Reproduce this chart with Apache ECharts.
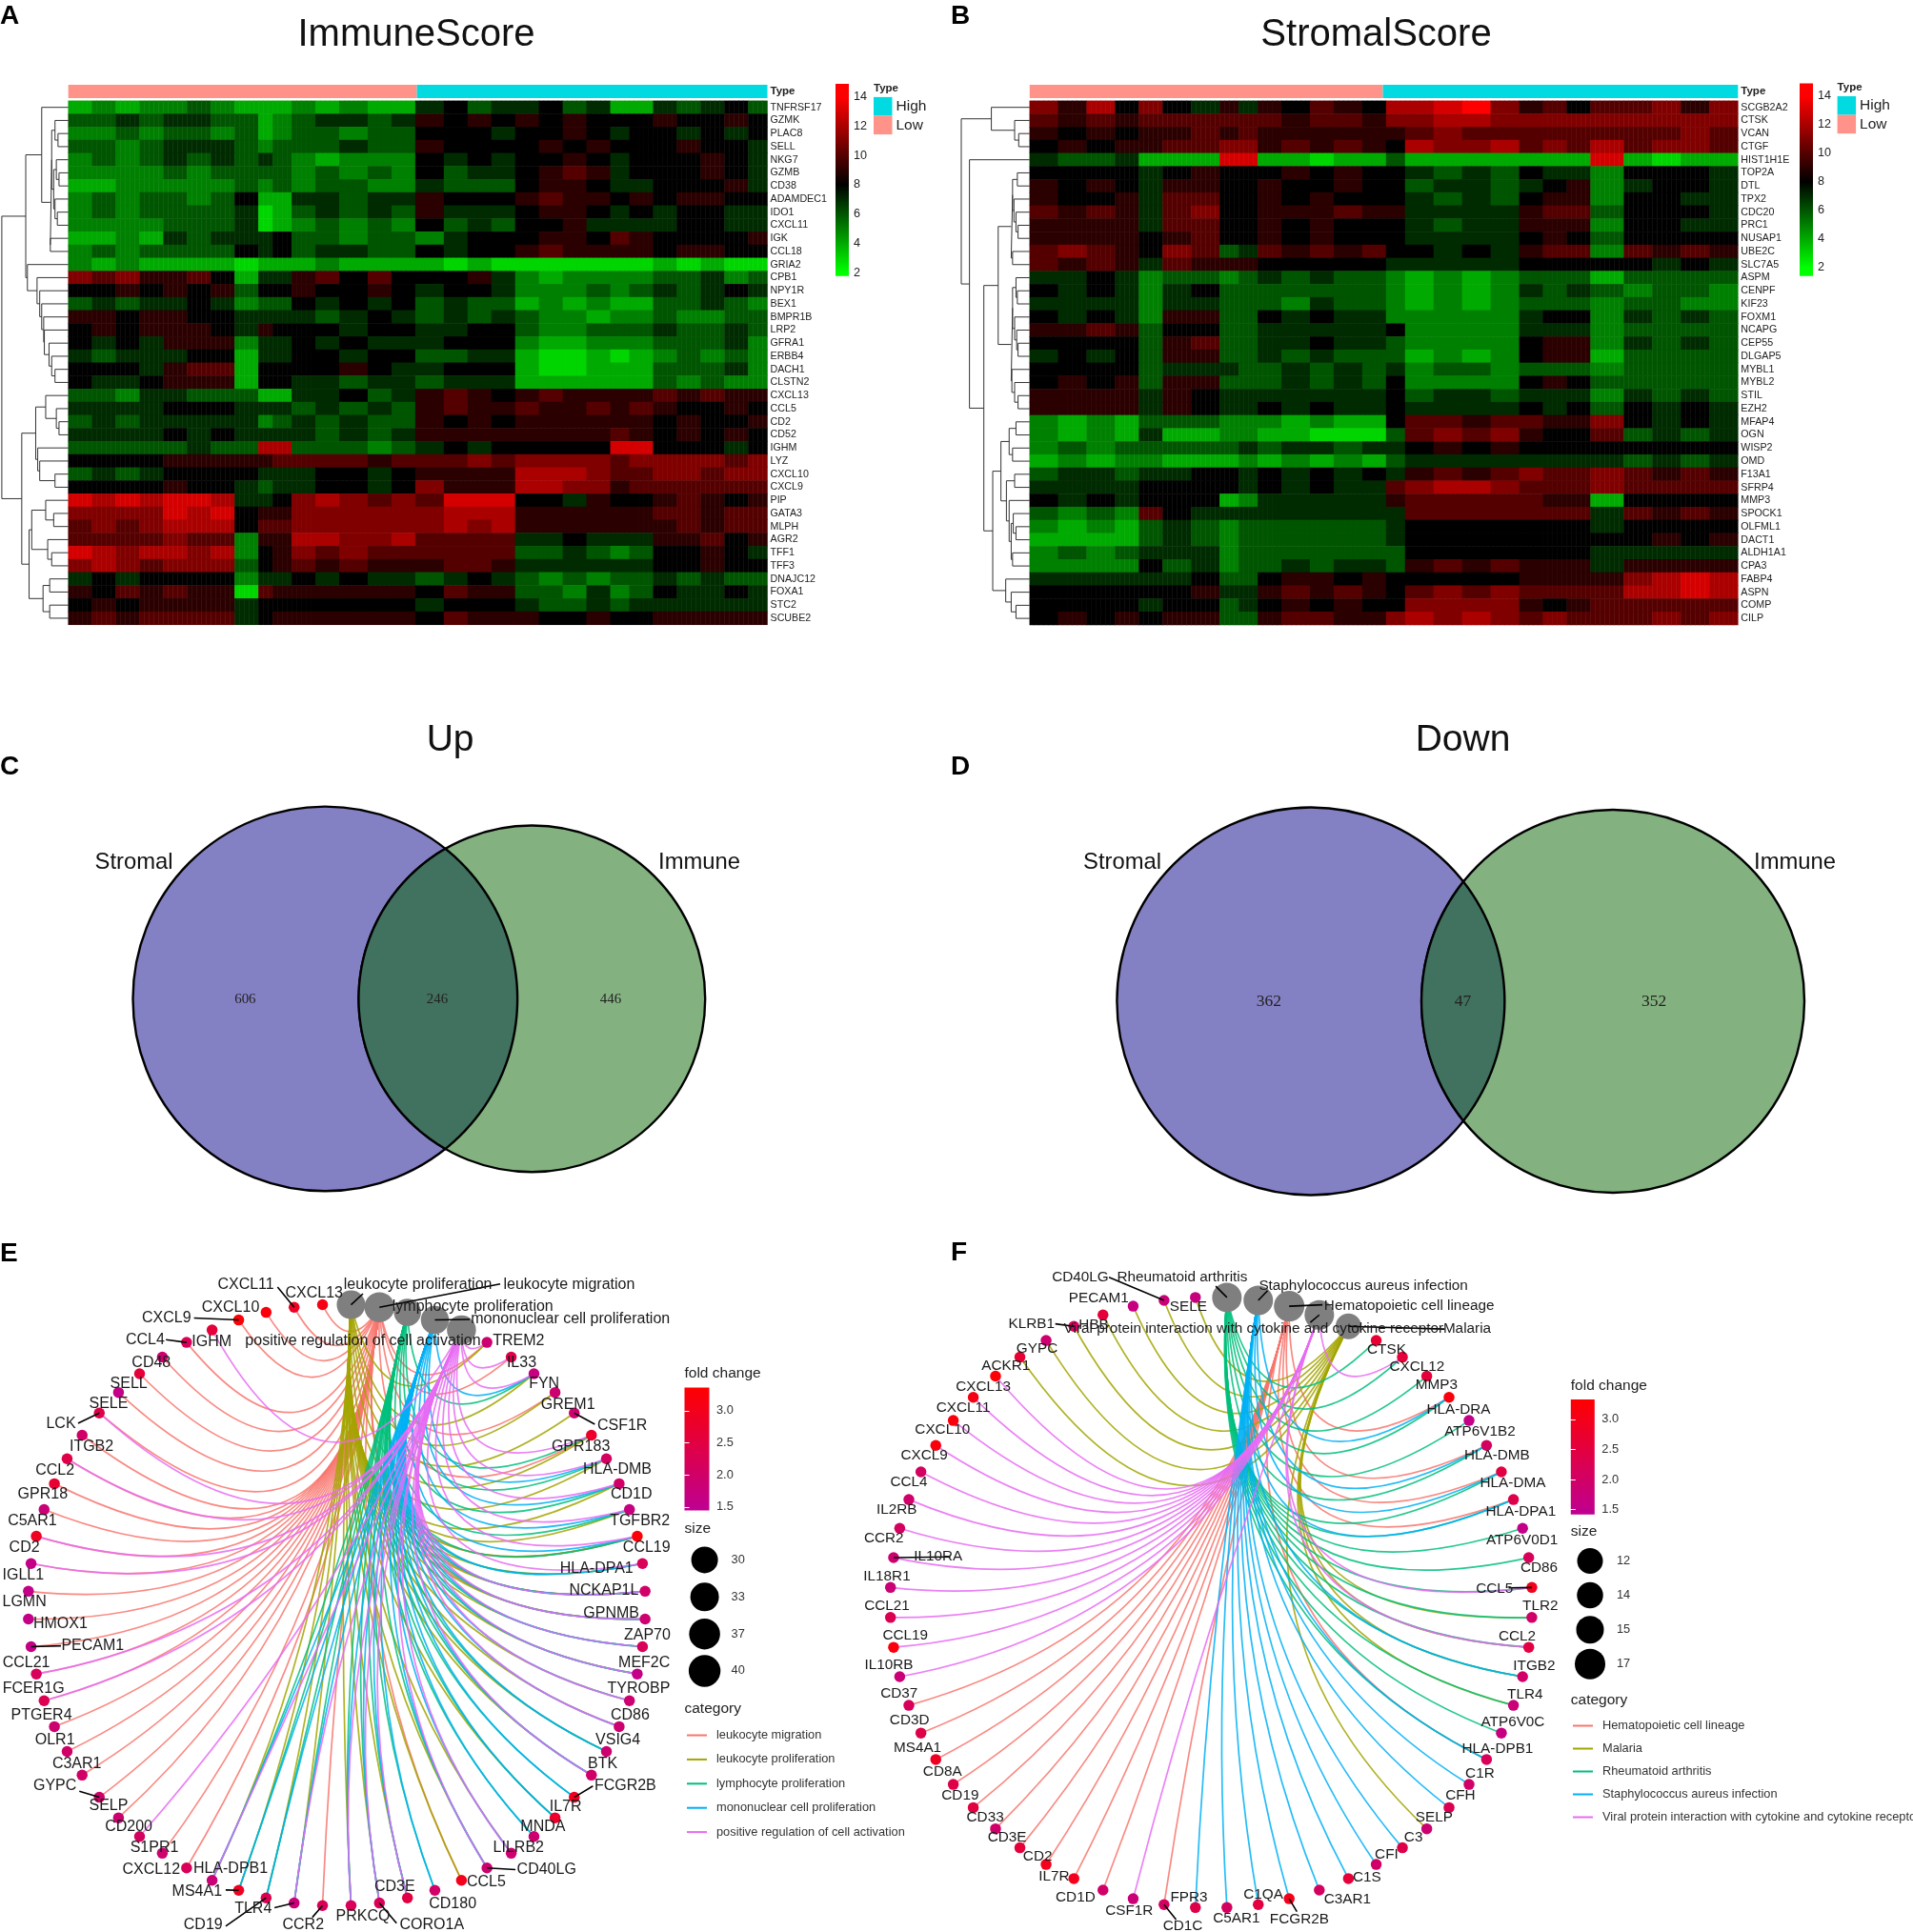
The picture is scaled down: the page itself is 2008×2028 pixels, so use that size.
<!DOCTYPE html>
<html><head><meta charset="utf-8">
<script src="https://cdn.jsdelivr.net/npm/echarts@6/dist/echarts.min.js"></script>
<style>html,body{margin:0;padding:0;background:#fff}#c{width:2008px;height:2028px}</style></head>
<body><div id="c"></div>
<script>
// ---------- Panel A: heatmap ----------
const genesA=["TNFRSF17","GZMK","PLAC8","SELL","NKG7","GZMB","CD38","ADAMDEC1","IDO1","CXCL11","IGK","CCL18","GRIA2","CPB1","NPY1R","BEX1","BMPR1B","LRP2","GFRA1","ERBB4","DACH1","CLSTN2","CXCL13","CCL5","CD2","CD52","IGHM","LYZ","CXCL10","CXCL9","PIP","GATA3","MLPH","AGR2","TFF1","TFF3","DNAJC12","FOXA1","STC2","SCUBE2"];
const spansA=[5,5,5,5,5,5,5,5,3,4,5,5,6,5,5,6,5,5,5,5,5,5,5,4,5,5,5,5,5,4];
const heatA=[
[4,5,4,5,5,6,5,4,4,4,5,4,5,4,4,7,8,6,7,7,8,6,7,4,4,7,6,7,8,6],
[6,6,7,6,7,7,6,6,4,5,6,7,7,6,7,9,8,9,8,9,8,9,8,8,8,9,8,8,9,8],
[5,5,6,5,6,6,5,6,4,5,6,6,5,6,6,8,8,8,7,8,8,9,8,7,8,8,7,8,7,8],
[6,6,5,6,7,7,7,6,5,6,6,6,7,6,6,9,8,8,8,8,9,8,9,8,8,8,9,8,8,7],
[5,6,5,6,7,6,7,6,7,6,5,4,5,5,5,8,7,8,7,8,8,9,8,7,8,8,8,9,8,7],
[5,5,5,5,6,5,6,6,6,6,5,6,5,6,5,8,6,7,7,8,9,10,9,7,8,8,8,9,8,7],
[4,4,5,5,5,5,5,6,5,6,5,6,6,5,5,7,6,6,6,8,9,9,8,7,7,8,8,8,9,7],
[5,6,5,6,6,5,6,8,4,4,7,7,6,7,7,9,8,8,8,9,10,9,9,8,9,8,9,9,8,8],
[5,6,5,6,6,6,6,7,3,4,6,7,6,7,6,9,7,7,7,8,9,9,8,7,8,7,8,8,7,7],
[5,5,5,5,6,6,6,7,3,4,5,6,5,6,5,8,6,7,6,8,8,9,7,7,7,7,8,8,7,7],
[4,4,5,4,7,6,7,7,7,8,6,6,5,6,6,5,7,8,8,8,9,9,8,10,9,8,8,8,8,9],
[5,6,5,6,6,6,6,8,7,8,6,7,7,6,6,8,7,8,8,9,10,9,9,9,9,8,9,9,8,8],
[5,4,5,4,4,4,4,3,4,4,4,5,4,4,4,4,3,4,3,3,3,3,3,3,3,4,3,4,3,3],
[11,10,11,9,9,10,8,4,7,7,9,10,8,10,8,8,8,9,7,5,4,5,5,5,5,6,6,7,5,6],
[8,8,9,8,9,8,9,6,8,8,9,8,8,9,8,7,8,8,7,5,5,5,6,5,6,7,6,7,8,7],
[6,7,6,7,7,8,7,5,6,6,8,7,8,7,8,6,7,6,6,4,5,4,5,4,4,6,6,7,6,5],
[9,9,8,9,9,8,8,7,7,7,7,6,7,8,7,6,7,6,7,6,5,5,4,5,5,6,5,5,6,6],
[8,9,8,9,9,9,8,7,9,8,8,8,7,8,8,7,7,8,8,6,5,5,6,6,6,7,6,6,7,6],
[8,7,8,7,9,9,9,5,7,7,8,7,8,7,7,7,8,8,8,5,4,4,5,5,5,6,6,6,7,5],
[7,6,7,7,7,8,8,4,7,7,8,8,7,8,8,6,6,7,7,4,3,3,4,3,4,5,6,5,6,5],
[8,8,8,7,9,10,10,4,8,8,8,8,9,8,7,7,8,8,8,4,3,3,4,4,4,6,6,6,7,5],
[8,7,7,8,9,9,9,4,8,8,7,7,6,7,7,6,7,7,7,4,4,4,4,4,4,6,5,6,5,5],
[6,6,5,7,7,6,6,6,4,4,7,7,8,6,7,9,10,9,8,9,10,9,9,9,9,10,9,10,9,9],
[7,7,7,7,8,8,8,7,7,7,6,7,6,7,6,9,10,9,9,10,9,9,10,9,10,9,8,8,9,8],
[6,7,6,7,7,7,7,7,5,6,7,6,7,6,6,9,8,9,8,9,9,9,9,9,9,8,9,8,8,9],
[7,7,7,7,8,7,8,7,7,7,7,6,7,6,7,9,9,9,9,9,9,9,9,10,9,8,9,8,9,8],
[6,6,6,6,6,7,6,6,12,12,6,6,6,5,6,7,8,7,8,8,8,8,8,13,13,8,8,8,7,8],
[8,8,8,8,9,9,9,9,9,10,10,10,10,9,10,10,10,11,10,11,11,11,11,10,11,11,11,11,10,11],
[6,7,6,7,8,8,8,8,7,7,7,8,8,7,8,9,9,9,9,12,12,12,11,10,10,11,11,10,11,11],
[8,8,8,8,9,8,8,7,6,7,7,8,8,7,8,11,9,9,9,12,12,11,11,9,10,10,10,10,10,10],
[13,12,13,12,13,13,12,7,7,8,11,12,11,10,11,10,13,13,13,8,8,7,9,8,8,9,10,9,8,9],
[11,11,11,11,13,12,13,8,9,9,11,11,11,11,11,11,12,12,12,9,9,9,9,9,9,10,10,9,10,10],
[10,11,10,11,12,12,12,8,10,10,11,11,11,11,11,11,12,11,12,9,9,9,9,9,9,9,10,9,10,10],
[10,10,10,10,11,10,10,5,9,9,12,12,11,11,12,10,10,10,10,7,7,8,7,7,7,9,9,10,8,9],
[13,12,11,12,12,11,12,5,8,9,11,10,11,10,10,10,10,10,10,6,6,7,6,5,6,8,8,9,8,7],
[11,12,11,10,11,11,11,6,8,9,10,9,10,9,9,9,10,10,9,7,7,7,7,7,7,8,8,9,8,8],
[7,8,7,8,8,8,8,5,7,7,8,7,8,7,7,6,7,8,7,6,5,6,5,6,6,7,6,7,6,6],
[9,8,10,9,10,9,9,3,10,9,9,9,9,9,9,8,10,9,9,6,6,5,7,5,6,8,7,7,8,7],
[8,9,8,9,9,9,9,7,8,8,8,8,8,8,8,7,8,8,8,7,6,6,7,6,7,7,7,7,7,7],
[9,10,9,10,10,10,10,7,8,9,9,9,9,9,9,8,10,9,9,9,8,8,9,8,8,9,9,9,9,9]];
const treeA=[1,[0.64,[0.4,0,[0.27,[0.25,[0.2,1,[0.155,2,3]],[0.22,[0.18,4,[0.14,5,6]],[0.2,7,[0.165,8,9]]]],[0.27,10,11]]],[0.615,12,[0.47,13,[0.43,14,[0.4,15,[0.37,16,[0.36,17,[0.29,18,[0.25,19,[0.2,20,21]]]]]]]]]],[0.7,[0.49,[0.34,22,[0.18,23,[0.14,24,25]]],[0.46,26,[0.43,27,[0.2,28,29]]]],[0.59,[0.55,[0.34,30,[0.22,31,32]],[0.31,33,[0.25,34,35]]],[0.38,[0.28,36,37],[0.28,38,39]]]]];
const typeCountsA=[183,184];
// ---------- Panel B: heatmap ----------
const genesB=["SCGB2A2","CTSK","VCAN","CTGF","HIST1H1E","TOP2A","DTL","TPX2","CDC20","PRC1","NUSAP1","UBE2C","SLC7A5","ASPM","CENPF","KIF23","FOXM1","NCAPG","CEP55","DLGAP5","MYBL1","MYBL2","STIL","EZH2","MFAP4","OGN","WISP2","OMD","F13A1","SFRP4","MMP3","SPOCK1","OLFML1","DACT1","ALDH1A1","CPA3","FABP4","ASPN","COMP","CILP"];
const spansB=[6,6,6,5,5,6,6,4,4,5,6,5,6,5,4,6,6,6,6,5,5,5,7,6,6,6,6];
const heatB=[
[11,9,12,8,11,8,7,9,7,9,8,10,9,8,12,12,13,14,11,9,10,8,10,10,11,9,11],
[10,9,10,9,10,10,10,10,10,10,9,10,10,9,11,11,12,12,11,11,11,11,11,11,11,11,11],
[9,8,9,8,9,9,10,9,10,9,9,9,9,9,9,10,11,10,10,10,10,10,10,10,10,11,10],
[8,9,8,9,9,10,10,11,11,9,10,9,10,9,8,12,11,11,12,10,11,10,12,10,11,11,10],
[7,6,6,7,4,4,4,13,13,4,4,3,4,4,6,4,4,4,4,4,4,4,13,4,3,4,4],
[8,8,8,8,7,8,9,8,8,8,9,8,9,8,8,7,6,7,6,8,7,7,5,8,8,8,7],
[9,8,9,8,7,9,9,8,8,9,8,8,9,8,8,6,7,7,6,7,8,9,5,7,8,8,7],
[9,8,8,9,7,10,10,8,8,9,8,9,8,8,8,7,6,7,6,8,9,9,5,8,8,7,7],
[10,9,10,9,7,10,11,8,8,9,9,9,10,9,9,7,7,7,7,9,10,10,6,8,8,8,7],
[9,9,9,9,7,10,10,8,8,9,8,9,8,8,8,7,6,7,7,9,9,9,5,8,8,7,7],
[9,9,9,9,8,9,10,8,8,9,8,9,8,8,8,7,7,7,7,8,9,8,6,8,8,8,8],
[10,11,10,9,8,11,10,6,7,10,9,10,9,10,8,8,7,8,7,9,10,10,5,10,9,10,9],
[10,9,10,9,7,10,9,9,9,8,8,8,8,8,7,7,7,7,7,8,8,8,8,8,7,8,7],
[7,7,8,7,5,6,6,5,6,7,6,7,6,6,5,4,5,4,5,6,6,6,4,6,6,6,6],
[8,7,8,7,5,7,8,6,6,6,6,6,6,6,5,4,5,4,5,7,6,7,6,5,6,6,5],
[7,7,7,7,5,7,7,6,6,6,5,7,6,6,5,4,5,4,5,6,6,6,5,6,6,5,5],
[8,7,8,7,5,9,9,6,6,8,7,8,7,7,5,5,5,5,5,7,8,8,5,7,6,7,6],
[9,9,10,9,6,8,8,6,6,7,7,7,7,7,8,5,5,5,5,7,7,7,5,6,6,6,6],
[8,8,8,8,6,9,10,6,6,7,7,8,7,7,6,5,5,5,5,8,9,9,5,7,6,7,6],
[7,8,7,8,6,9,9,6,6,7,6,7,6,6,6,4,5,4,5,8,9,9,4,6,6,6,6],
[8,8,8,8,6,7,7,7,6,6,7,6,7,6,7,5,6,6,5,6,6,6,5,6,6,6,6],
[8,9,8,9,6,9,9,6,6,6,7,6,7,6,8,5,5,5,5,8,9,8,6,6,6,6,6],
[9,9,9,9,7,9,8,7,7,7,7,7,7,7,8,6,7,7,6,7,7,7,5,7,6,7,6],
[9,9,9,9,7,9,8,7,7,8,7,8,7,7,8,7,7,7,7,8,7,8,6,8,7,8,7],
[5,4,5,4,6,6,6,5,5,5,4,5,4,4,8,10,10,9,10,10,9,9,11,8,7,8,7],
[5,4,5,4,7,4,4,5,5,4,4,3,3,3,6,10,11,10,11,9,8,8,10,6,7,6,7],
[5,6,5,6,6,6,6,6,7,6,7,7,6,7,7,8,9,8,9,8,8,8,8,8,8,8,8],
[4,5,4,5,5,4,4,4,5,4,5,4,5,4,6,7,7,7,7,7,7,7,7,6,7,6,7],
[6,7,7,6,7,7,8,8,7,8,7,8,7,8,7,9,10,9,10,11,10,10,11,10,9,10,9],
[7,7,7,7,8,8,8,8,7,8,7,8,7,7,10,11,12,12,11,10,10,10,11,10,10,10,10],
[8,7,8,7,8,8,8,4,5,7,7,7,7,7,9,10,10,10,10,10,9,9,4,8,8,8,8],
[6,5,6,5,10,8,7,7,7,7,7,7,7,7,7,10,10,10,10,10,10,10,7,10,9,10,9],
[5,4,5,4,6,7,6,5,6,6,6,6,6,6,7,8,8,8,8,8,8,8,7,8,8,8,8],
[4,4,4,4,6,7,6,5,6,6,6,6,6,6,7,8,8,8,8,8,8,8,8,8,9,8,9],
[5,6,5,6,7,7,7,5,6,6,6,6,6,6,6,8,8,8,8,8,8,8,7,7,7,7,7],
[5,5,5,5,8,6,7,5,6,6,7,6,7,7,6,9,10,9,10,9,9,9,7,9,9,9,9],
[7,7,7,7,7,7,8,6,6,8,9,9,8,9,8,8,8,8,8,9,9,9,9,11,12,13,12],
[8,8,8,8,8,8,9,7,7,9,10,9,10,9,8,10,11,10,11,10,10,10,10,12,12,13,12],
[8,8,8,8,7,8,8,6,7,8,9,8,9,8,8,11,11,11,11,9,8,9,10,10,10,10,10],
[8,9,8,9,8,9,9,6,6,9,10,10,9,9,11,12,11,12,11,10,11,10,10,10,11,10,11]];
const treeB=[1,[0.56,0,[0.22,1,[0.16,2,3]]],[0.88,4,[0.67,[0.46,[0.27,[0.25,[0.18,5,6],[0.23,7,[0.2,8,[0.17,9,10]]]],[0.25,11,12]],[0.27,[0.25,[0.2,13,[0.18,14,15]],[0.22,16,[0.19,17,[0.17,18,19]]]],[0.26,20,[0.22,21,[0.17,22,23]]]]],[0.54,[0.42,[0.3,[0.2,24,25],[0.25,26,27]],[0.34,[0.22,28,29],[0.3,30,[0.27,[0.24,31,[0.2,32,33]],[0.25,34,35]]]]],[0.35,36,[0.27,37,[0.2,38,39]]]]]]];
const typeCountsB=[186,187];
const heatTicks=[2,4,6,8,10,12,14];
// ---------- Panels C, D: Venn ----------
const vennUp=[606,246,446];
const vennDown=[362,47,352];
// ---------- Panel E: network ----------
const categoriesE=["leukocyte migration","leukocyte proliferation","lymphocyte proliferation","mononuclear cell proliferation","positive regulation of cell activation"];
const circleCatsE=["leukocyte proliferation","leukocyte migration","lymphocyte proliferation","mononuclear cell proliferation","positive regulation of cell activation"];
const genesE=["TREM2","IL33","FYN","GREM1","CSF1R","GPR183","HLA-DMB","CD1D","TGFBR2","CCL19","HLA-DPA1","NCKAP1L","GPNMB","ZAP70","MEF2C","TYROBP","CD86","VSIG4","BTK","FCGR2B","IL7R","MNDA","LILRB2","CD40LG","CCL5","CD180","CD3E","CORO1A","PRKCQ","CCR2","TLR4","CD19","MS4A1","HLA-DPB1","CXCL12","S1PR1","CD200","SELP","GYPC","C3AR1","OLR1","PTGER4","FCER1G","CCL21","PECAM1","HMOX1","LGMN","IGLL1","CD2","C5AR1","GPR18","CCL2","ITGB2","LCK","SELE","SELL","CD48","CCL4","IGHM","CXCL9","CXCL10","CXCL11","CXCL13"];
const foldE=[1.9,2.4,1.7,1.9,1.9,2.8,2.1,2,1.7,3.3,2.2,2,1.9,2.2,1.6,1.9,1.9,1.9,2,2.9,2.8,1.9,1.9,1.9,3,2,2.5,2.2,2.2,2.2,1.8,2.3,2.9,1.8,2.2,1.9,2.1,1.9,2,2,2,1.9,2.3,2.2,1.6,1.6,1.6,1.6,2.9,1.8,2.7,2.4,2,2.4,1.6,2.6,1.9,2.2,2.6,3.3,3.2,2.9,3.1];
const migrationE=["TREM2","IL33","GREM1","GPR183","CCL19","NCKAP1L","GPNMB","CCL5","CCR2","CXCL12","S1PR1","SELP","GYPC","C3AR1","OLR1","PTGER4","FCER1G","CCL21","PECAM1","HMOX1","LGMN","IGLL1","CD2","C5AR1","GPR18","CCL2","ITGB2","LCK","SELE","SELL","CD48","CCL4","CXCL9","CXCL10","CXCL11","CXCL13"];
const leukoProlifE=["TREM2","FYN","GREM1","CSF1R","GPR183","HLA-DMB","CD1D","TGFBR2","CCL19","HLA-DPA1","NCKAP1L","GPNMB","ZAP70","MEF2C","TYROBP","CD86","VSIG4","BTK","IL7R","LILRB2","CD40LG","CCL5","CD3E","CORO1A","PRKCQ","TLR4","CD19","MS4A1","HLA-DPB1"];
const lymphoProlifE=["FYN","GPR183","HLA-DMB","CD1D","TGFBR2","CCL19","HLA-DPA1","NCKAP1L","GPNMB","ZAP70","MEF2C","VSIG4","BTK","FCGR2B","IL7R","MNDA","CD180","CD40LG","CD3E","CORO1A","PRKCQ","TLR4","CD19","MS4A1","HLA-DPB1"];
const monoProlifE=["FYN","HLA-DMB","CD1D","TGFBR2","CCL19","HLA-DPA1","NCKAP1L","GPNMB","ZAP70","MEF2C","TYROBP","CD86","VSIG4","BTK","FCGR2B","IL7R","MNDA","LILRB2","CD180","CD40LG","CD3E","CORO1A","PRKCQ","TLR4","CD19","MS4A1","HLA-DPB1"];
const activationE=["TREM2","IL33","FYN","GPR183","HLA-DMB","CD1D","TGFBR2","CCL19","HLA-DPA1","NCKAP1L","GPNMB","ZAP70","MEF2C","TYROBP","CD86","BTK","LILRB2","CD40LG","CD3E","CORO1A","PRKCQ","TLR4","HLA-DPB1","CD200","FCER1G","CCL21","IGLL1","CD2","CCL2","LCK","IGHM"];
const sizeLegendE=[30,33,37,40];
const sizeDiamE=[28,30,32.5,33.4];
// ---------- Panel F: network ----------
const categoriesF=["Hematopoietic cell lineage","Malaria","Rheumatoid arthritis","Staphylococcus aureus infection","Viral protein interaction with cytokine and cytokine receptor"];
const circleCatsF=["Rheumatoid arthritis","Staphylococcus aureus infection","Hematopoietic cell lineage","Viral protein interaction with cytokine and cytokine receptor","Malaria"];
const genesF=["CTSK","CXCL12","MMP3","HLA-DRA","ATP6V1B2","HLA-DMB","HLA-DMA","HLA-DPA1","ATP6V0D1","CD86","CCL5","TLR2","CCL2","ITGB2","TLR4","ATP6V0C","HLA-DPB1","C1R","CFH","SELP","C3","CFI","C1S","C3AR1","FCGR2B","C1QA","C5AR1","FPR3","CD1C","CSF1R","CD1D","IL7R","CD2","CD3E","CD33","CD19","CD8A","MS4A1","CD3D","CD37","IL10RB","CCL19","CCL21","IL18R1","IL10RA","CCR2","IL2RB","CCL4","CXCL9","CXCL10","CXCL11","CXCL13","ACKR1","GYPC","KLRB1","HBB","PECAM1","CD40LG","SELE"];
const foldF=[2.7,2.6,2.6,3.2,1.6,2.1,2.5,2.4,1.6,2.2,3,2,2.5,2,1.8,1.7,2.2,2,2.3,1.9,2.4,2,2.6,2.1,3,2.5,2.1,2.4,2.1,1.8,2,3,3,2.6,2,2.5,2.4,2.9,2.4,2.2,1.8,3.2,2.3,1.8,1.9,2.1,2,2.1,3.2,3.2,3.1,3.3,2.7,1.9,2.1,2.6,1.7,1.8,1.7];
const hematoF=["HLA-DRA","HLA-DMB","HLA-DMA","HLA-DPA1","HLA-DPB1","CD1C","CD1D","IL7R","CD2","CD3E","CD33","CD19","CD8A","MS4A1","CD3D","CD37"];
const malariaF=["CCL2","TLR2","ITGB2","TLR4","SELP","GYPC","ACKR1","KLRB1","HBB","PECAM1","CD40LG","SELE"];
const rheumF=["CTSK","CXCL12","MMP3","HLA-DRA","ATP6V1B2","HLA-DMB","HLA-DMA","HLA-DPA1","ATP6V0D1","CD86","CCL5","TLR2","CCL2","ITGB2","TLR4","ATP6V0C","HLA-DPB1"];
const staphF=["HLA-DRA","HLA-DMB","HLA-DMA","HLA-DPA1","ITGB2","HLA-DPB1","C1R","CFH","C3","CFI","C1S","C3AR1","FCGR2B","C1QA","C5AR1","FPR3"];
const viralF=["CXCL12","CCL5","CCL2","CSF1R","IL10RB","CCL19","CCL21","IL18R1","IL10RA","CCR2","IL2RB","CCL4","CXCL9","CXCL10","CXCL11","CXCL13"];
const sizeLegendF=[12,14,15,17];
const sizeDiamF=[27,27.5,29,32];
const foldTicks=[1.5,2,2.5,3];

// ---------- placement tables (positions only, in crop units of the source figure) ----------
const labelE=[[850,231],[855,281],[892,328],[931,375],[1020,423],[952,471],[1012,523],[1035,579],[1049,638],[1060,699],[978,747],[990,797],[1002,848],[1061,897],[1056,960],[1047,1018],[1033,1078],[1013,1134],[988,1188],[1025,1238],[927,1285],[890,1331],[850,1378],[896,1427],[797,1455],[742,1504],[647,1465],[708,1552],[595,1533],[497,1552],[415,1516],[333,1552],[323,1476],[378,1425],[248,1428],[253,1378],[211,1330],[178,1283],[90,1238],[126,1188],[90,1134],[68,1078],[55,1018],[43,960],[152,921],[99,872],[40,823],[38,762],[40,699],[53,638],[70,579],[90,524],[150,471],[100,420],[178,374],[211,328],[248,281],[238,229],[347,233],[273,181],[378,157],[403,105],[515,125]];
const catLabelE=[[685,105],[933,105],[775,155],[935,183],[595,232]];
const leaderE={"CXCL11":[455,110],"CXCL9":[318,180],"CCL4":[272,229],"LCK":[128,418],"PECAM1":[100,921],"GYPC":[130,1250],"MS4A1":[370,1473],"CD19":[370,1555],"TLR4":[450,1513],"CCR2":[512,1535],"CORO1A":[650,1548],"CD40LG":[845,1427],"FCGR2B":[972,1238],"CSF1R":[975,420],"leukocyte proliferation":[595,125],"leukocyte migration":[820,103],"mononuclear cell proliferation":[770,183]};
const labelF=[[705,252],[755,290],[787,332],[823,388],[858,436],[886,491],[912,553],[925,617],[927,682],[955,745],[882,793],[957,831],[919,900],[947,967],[932,1031],[912,1093],[887,1154],[858,1210],[826,1259],[783,1310],[749,1354],[705,1393],[673,1445],[641,1494],[562,1539],[503,1483],[459,1537],[381,1490],[371,1555],[283,1520],[195,1490],[160,1443],[133,1397],[83,1355],[47,1310],[6,1260],[-23,1206],[-64,1151],[-77,1090],[-94,1029],[-111,965],[-84,898],[-114,831],[-114,765],[-30,719],[-119,678],[-98,614],[-78,552],[-53,491],[-23,433],[11,383],[44,336],[81,289],[132,249],[123,194],[225,196],[233,135],[203,87],[380,154]];
const catLabelF=[[370,88],[667,107],[742,152],[487,205],[837,205]];
const leaderF={"CD40LG":[250,88],"KLRB1":[162,193],"CCL5":[905,790],"IL10RA":[-10,720],"CD1C":[360,1540],"FCGR2B":[558,1522],"Rheumatoid arthritis":[425,108],"Staphylococcus aureus infection":[510,118],"Hematopoietic cell lineage":[600,150],"Viral protein interaction with cytokine and cytokine receptor":[580,190],"Malaria":[800,205]};

// ---------- builders ----------
const sans="'Liberation Sans',Arial,sans-serif";
const ink='#1a1a1a';
const grids=[],xAxes=[],yAxes=[],series=[],graphics=[],legends=[],heatIdx=[];
function addGrid(x,y,w,h,xa,ya,ya2){
  const g=grids.length;grids.push({left:x,top:y,width:w,height:h,containLabel:false});
  const xi=xAxes.length;xAxes.push(Object.assign({gridIndex:g},xa));
  const yi=yAxes.length;yAxes.push(Object.assign({gridIndex:g},ya));
  if(ya2)yAxes.push(Object.assign({gridIndex:g},ya2));
  return {xi,yi};
}
const hidden=(min,max,extra)=>Object.assign({type:'value',show:false,min,max,splitLine:{show:false}},extra||{});
function text(x,y,str,size,opt){
  opt=opt||{};
  graphics.push({type:'text',x,y,silent:true,z:100,style:{text:str,fontSize:size,fontFamily:opt.family||sans,fontWeight:opt.weight||'normal',fill:opt.fill||ink,align:opt.align||'left',verticalAlign:'middle'}});
}
function rect(x,y,w,h,fill){graphics.push({type:'rect',silent:true,shape:{x,y,width:w,height:h},style:{fill}});}
function gradientBar(ax,lo,hi,stops){
  series.push({type:'custom',xAxisIndex:ax.xi,yAxisIndex:ax.yi,silent:true,data:[[lo,hi]],z:2,
    renderItem:(p,api)=>{const a=api.coord([0,api.value(1)]),b=api.coord([1,api.value(0)]);
      return {type:'rect',shape:{x:a[0],y:a[1],width:b[0]-a[0],height:b[1]-a[1]},style:{fill:new echarts.graphic.LinearGradient(0,0,0,1,stops)}};}});
}
function dendroPoints(tree){
  const pts=[];
  (function walk(n){
    if(typeof n==='number')return {h:0,y:n+0.5};
    const a=walk(n[1]),b=walk(n[2]);
    pts.push([a.h,a.y],[n[0],a.y],[n[0],b.y],[b.h,b.y],['-','-']);
    return {h:n[0],y:(a.y+b.y)/2};
  })(tree);
  return pts;
}
function heatPanel(cfg){
  const n=cfg.spans.reduce((a,b)=>a+b,0);
  const cols=Array.from({length:n},(_,i)=>String(i));
  const ax=addGrid(cfg.x,cfg.y,cfg.w,cfg.h,
    {type:'category',data:cols,show:false},
    {type:'category',data:cfg.genes,inverse:true,position:'right',axisLine:{show:false},axisTick:{show:false},splitLine:{show:false},
     axisLabel:{interval:0,fontSize:10.7,fontFamily:sans,color:'#222',margin:3}});
  const cells=[];
  cfg.heat.forEach((row,r)=>{let c=0;row.forEach((v,s)=>{for(let k=0;k<cfg.spans[s];k++)cells.push([c++,r,v]);});});
  heatIdx.push(series.length);
  series.push({type:'heatmap',xAxisIndex:ax.xi,yAxisIndex:ax.yi,data:cells,progressive:0,silent:true,emphasis:{disabled:true}});
  // annotation bar
  const an=addGrid(cfg.x,88.9,cfg.w,14,hidden(0,cfg.counts[0]+cfg.counts[1]),
    {type:'category',data:['Type'],position:'right',axisLine:{show:false},axisTick:{show:false},
     axisLabel:{fontSize:11.5,fontWeight:'bold',fontFamily:sans,color:'#222',margin:3}});
  [['Low','#FF9289',cfg.counts[0]],['High','#00DAE0',cfg.counts[1]]].forEach(t=>{
    series.push({type:'bar',name:'Type '+t[0]+cfg.title,stack:'t'+cfg.title,barWidth:'100%',xAxisIndex:an.xi,yAxisIndex:an.yi,data:[t[2]],itemStyle:{color:t[1]},silent:true});
  });
  // dendrogram
  const de=addGrid(cfg.dx,cfg.y,cfg.x-cfg.dx,cfg.h,hidden(0,1,{inverse:true}),hidden(0,40,{inverse:true}));
  series.push({type:'line',xAxisIndex:de.xi,yAxisIndex:de.yi,data:dendroPoints(cfg.tree),showSymbol:false,symbol:'none',silent:true,clip:false,
    connectNulls:false,lineStyle:{color:'#333',width:1},z:3});
  // colour bar
  const lo=cfg.cbLo,hi=cfg.cbHi;const off=v=>(hi-v)/(hi-lo);
  const cb=addGrid(cfg.cbx,cfg.cby,14,cfg.cbh,hidden(0,1),
    {type:'value',min:lo,max:hi,position:'right',axisLine:{show:false},axisTick:{show:false},splitLine:{show:false},
     axisLabel:{customValues:heatTicks,fontSize:12.6,fontFamily:sans,color:'#222',margin:5,hideOverlap:false,showMinLabel:true,showMaxLabel:true}});
  gradientBar(cb,lo,hi,[{offset:0,color:'#ff0000'},{offset:off(14),color:'#ff0000'},{offset:off(8),color:'#000000'},{offset:off(2),color:'#00ff00'},{offset:1,color:'#00ff00'}]);
  // Type legend
  text(cfg.lx,cfg.ly-9,'Type',11.5,{weight:'bold',fill:'#222'});
  rect(cfg.lx,cfg.ly,19.5,19.6,'#00DAE0');rect(cfg.lx,cfg.ly+19.6,19.5,19.6,'#FF9289');
  text(cfg.lx+23.5,cfg.ly+9.8,'High',15.5,{fill:'#222'});text(cfg.lx+23.5,cfg.ly+30,'Low',15.5,{fill:'#222'});
  text(cfg.tx,37,cfg.title,40,{align:'center',fill:'#111'});
}
function vennPanel(cfg){
  const [a,ab,b]=cfg.counts;
  const r1=Math.sqrt((a+ab)/Math.PI),r2=Math.sqrt((b+ab)/Math.PI);
  const lens=d=>{
    const d1=(d*d+r1*r1-r2*r2)/(2*d),d2=d-d1;
    return r1*r1*Math.acos(d1/r1)-d1*Math.sqrt(r1*r1-d1*d1)+r2*r2*Math.acos(d2/r2)-d2*Math.sqrt(r2*r2-d2*d2);
  };
  let lo=Math.abs(r1-r2)+1e-6,hi=r1+r2-1e-6;
  for(let i=0;i<60;i++){const m=(lo+hi)/2;if(lens(m)>ab)lo=m;else hi=m;}
  const d=(lo+hi)/2,span=r1+d+r2,rm=Math.max(r1,r2);
  const h=cfg.w*2*rm/span;
  const ax=addGrid(cfg.x,cfg.cy-h/2,cfg.w,h,hidden(0,span),hidden(-rm,rm));
  const circles=[[r1,0,r1,'#8480C4'],[r1+d,0,r2,'#83B280']];
  series.push({type:'custom',xAxisIndex:ax.xi,yAxisIndex:ax.yi,silent:true,clip:false,data:circles.map(c=>c.slice(0,3)),z:2,
    renderItem:(p,api)=>{const c=api.coord([api.value(0),api.value(1)]);const rp=api.size([api.value(2),0])[0];
      return {type:'circle',shape:{cx:c[0],cy:c[1],r:rp},style:{fill:circles[p.dataIndex][3],stroke:'#000',lineWidth:2.4}};}});
  series.push({type:'custom',xAxisIndex:ax.xi,yAxisIndex:ax.yi,silent:true,clip:false,data:[[r1,r1+d,r1,r2]],z:3,
    renderItem:(p,api)=>{
      const pts=[],back=[];
      const yMax=Math.sqrt(Math.max(0,r1*r1-Math.pow((d*d+r1*r1-r2*r2)/(2*d),2)));
      for(let i=0;i<=120;i++){const y=-yMax+2*yMax*i/120;
        pts.push(api.coord([r1+Math.sqrt(Math.max(0,r1*r1-y*y)),y]));
        back.unshift(api.coord([r1+d-Math.sqrt(Math.max(0,r2*r2-y*y)),y]));}
      return {type:'polygon',shape:{points:pts.concat(back)},style:{fill:'#41715F',stroke:'#000',lineWidth:2.4}};}});
  text(cfg.tx,777.5,cfg.title,39,{align:'center',fill:'#111'});
  text(cfg.sx,905,'Stromal',23.8,{align:'center',fill:'#111'});
  text(cfg.ix,905,'Immune',23.8,{align:'center',fill:'#111'});
  cfg.counts.forEach((v,i)=>text(cfg.nx[i],cfg.ny,String(v),cfg.ns,{align:'center',family:"'Liberation Serif',serif",fill:'#222'}));
}
const catColors=['#F8766D','#A3A500','#00BF7D','#00B0F6','#E76BF3'];
function foldColor(v){
  const t=Math.max(0,Math.min(1,(v-1.45)/(3.36-1.45)));
  const mix=(a,b)=>Math.round(a+(b-a)*t);
  return 'rgb('+mix(190,255)+',0,'+mix(146,0)+')';
}
function netPanel(cfg){
  const total=cfg.genes.length+cfg.circleCats.length;
  const step=2*Math.PI/total;
  const ax=addGrid(cfg.cx-cfg.rx,cfg.cy-cfg.ry,2*cfg.rx,2*cfg.ry,hidden(-1,1),hidden(-1,1));
  const toX=x=>x/1.5617+cfg.ox,toY=y=>1300+y/2.154;
  const toU=pos=>[(toX(pos[0])-cfg.cx)/cfg.rx,(cfg.cy-toY(pos[1]))/cfg.ry];
  const unit=k=>{const p=step/2+k*step;return [Math.sin(p),Math.cos(p)];};
  const px=u=>[cfg.cx+cfg.rx*u[0],cfg.cy-cfg.ry*u[1]];
  const where={};
  const nodes=[];
  const labelRows=[],labelNames=[];
  cfg.circleCats.forEach((n,i)=>{const u=unit(i);where[n]=u;
    nodes.push({name:n,value:u,symbolSize:cfg.catSizes[i],itemStyle:{color:'#7F7F7F'}});
    labelRows.push(toU(cfg.catLabels[i]));labelNames.push(n);});
  cfg.genes.forEach((n,i)=>{const u=unit(i+cfg.circleCats.length);where[n]=u;
    nodes.push({name:n,value:u,symbolSize:11.5,itemStyle:{color:foldColor(cfg.fold[i])}});
    labelRows.push(toU(cfg.labels[i]));labelNames.push(n);});
  const links=[];
  cfg.sets.forEach((set,ci)=>{
    const src=cfg.categories[ci];const P=px(where[src]);
    set.forEach(g=>{
      const Q=px(where[g]);
      const dx=Q[0]-P[0],dy=Q[1]-P[1],len2=dx*dx+dy*dy;
      const mx=(P[0]+Q[0])/2,my=(P[1]+Q[1])/2;
      const t=1.1*((cfg.cx-mx)*dy-(cfg.cy-my)*dx)/len2;
      const c=Math.sign(t)*Math.min(Math.abs(t),cfg.curveMax);
      links.push({source:src,target:g,lineStyle:{color:catColors[ci],curveness:c,width:1.7,opacity:0.85}});
    });
  });
  series.push({type:'graph',coordinateSystem:'cartesian2d',xAxisIndex:ax.xi,yAxisIndex:ax.yi,layout:'none',silent:true,roam:false,
    data:nodes,links,edgeSymbol:['none','none'],z:3,emphasis:{disabled:true},label:{show:false},lineStyle:{curveness:0}});
  // leader lines
  const seg=[];
  Object.keys(cfg.leaders).forEach(n=>{seg.push(where[n],toU(cfg.leaders[n]),['-','-']);});
  series.push({type:'line',xAxisIndex:ax.xi,yAxisIndex:ax.yi,data:seg,showSymbol:false,symbol:'none',silent:true,clip:false,lineStyle:{color:'#000',width:1.6},z:4});
  // node labels
  series.push({type:'custom',xAxisIndex:ax.xi,yAxisIndex:ax.yi,silent:true,clip:false,data:labelRows,z:5,
    renderItem:(p,api)=>{const c=api.coord([api.value(0),api.value(1)]);
      return {type:'text',style:{text:labelNames[p.dataIndex],x:c[0],y:c[1],align:'center',verticalAlign:'middle',fontSize:cfg.font,fontFamily:sans,fill:'#1a1a1a'}};}});
  // category legend (empty line series carry the names and colours)
  cfg.categories.forEach((n,i)=>series.push({type:'line',name:n,xAxisIndex:ax.xi,yAxisIndex:ax.yi,data:[],color:catColors[i],symbol:'none',lineStyle:{color:catColors[i]}}));
  legends.push({data:cfg.categories,orient:'vertical',left:cfg.lgx,top:cfg.lgy,itemWidth:21,itemHeight:2,itemGap:cfg.lgGap,icon:'rect',selectedMode:false,padding:0,
    textStyle:{fontSize:12.8,fontFamily:sans,color:'#333',padding:[0,0,0,5]}});
  text(cfg.tx,cfg.foldY,'fold change',15.5,{fill:'#222'});
  text(cfg.tx,cfg.sizeY,'size',15.5,{fill:'#222'});
  text(cfg.tx,cfg.catY,'category',15.5,{fill:'#222'});
  // fold change bar
  const lo=cfg.barLo,hi=cfg.barHi;
  const whiteTick={show:true,inside:true,length:5,customValues:foldTicks,lineStyle:{color:'#fff',width:1}};
  const cb=addGrid(cfg.tx,cfg.barY,cfg.barW,cfg.barH,hidden(0,1),
    {type:'value',min:lo,max:hi,position:'right',z:6,axisLine:{show:false},axisTick:whiteTick,splitLine:{show:false},
     axisLabel:{customValues:foldTicks,formatter:v=>Number(v).toFixed(1),fontSize:12.8,fontFamily:sans,color:'#333',margin:7.5}},
    {type:'value',min:lo,max:hi,position:'left',z:6,axisLine:{show:false},axisTick:whiteTick,splitLine:{show:false},axisLabel:{show:false}});
  gradientBar(cb,lo,hi,[{offset:0,color:'#ff0000'},{offset:1,color:'#BE0092'}]);
  // size legend
  const sg=addGrid(cfg.szx-17,cfg.szy,34,cfg.szh,{type:'category',show:false,data:['s']},
    {type:'category',data:cfg.sizeLegend.map(String),inverse:true,position:'right',axisLine:{show:false},axisTick:{show:false},
     axisLabel:{interval:0,fontSize:12.8,fontFamily:sans,color:'#333',margin:11}});
  series.push({type:'scatter',xAxisIndex:sg.xi,yAxisIndex:sg.yi,silent:true,data:cfg.sizeLegend.map((v,i)=>({value:['s',String(v)],symbolSize:cfg.sizeDiam[i]})),itemStyle:{color:'#000',opacity:1}});
}

heatPanel({title:'ImmuneScore',tx:437,genes:genesA,spans:spansA,heat:heatA,tree:treeA,counts:typeCountsA,x:71.7,y:105.8,w:733.8,h:550,dx:1.9,cbx:877,cby:88,cbh:201.7,cbLo:1.77,cbHi:14.9,lx:917,ly:101.9});
heatPanel({title:'StromalScore',tx:1444.5,genes:genesB,spans:spansB,heat:heatB,tree:treeB,counts:typeCountsB,x:1080.8,y:105.8,w:743.5,h:550.2,dx:1009,cbx:1889,cby:87.6,cbh:202.1,cbLo:1.42,cbHi:14.87,lx:1928.6,ly:101});
vennPanel({title:'Up',tx:472.6,counts:vennUp,x:139.5,w:600.7,cy:1048.4,sx:140.5,ix:734,nx:[257.4,459,641],ny:1049,ns:14.9});
vennPanel({title:'Down',tx:1535.5,counts:vennDown,x:1172.4,w:721.6,cy:1051,sx:1178,ix:1884,nx:[1331.8,1535.5,1736],ny:1051.5,ns:17.5});
netPanel({genes:genesE,fold:foldE,categories:categoriesE,circleCats:circleCatsE,sets:[migrationE,leukoProlifE,lymphoProlifE,monoProlifE,activationE],
  labels:labelE,catLabels:catLabelE,leaders:leaderE,ox:0,cx:353.5,cy:1684.9,rx:324,ry:315.7,catSizes:[30,31.5,28.5,29.5,30.5],font:16,curveMax:0.9,
  lgx:721,lgy:1815,lgGap:12.4,tx:718.5,foldY:1442,sizeY:1605,catY:1794,barY:1456.5,barW:26,barH:129.1,barLo:1.445,barHi:3.36,
  szx:739.6,szy:1618,szh:155.4,sizeLegend:sizeLegendE,sizeDiam:sizeDiamE});
netPanel({genes:genesF,fold:foldF,categories:categoriesF,circleCats:circleCatsF,sets:[hematoF,malariaF,rheumF,staphF,viralF],
  labels:labelF,catLabels:catLabelF,leaders:leaderF,ox:1004,cx:1271.3,cy:1682.1,rx:337,ry:320.6,catSizes:[31,31,32,31,27],font:15.3,curveMax:0.9,
  lgx:1651,lgy:1805,lgGap:11,tx:1648.8,foldY:1454.7,sizeY:1607.4,catY:1784.7,barY:1469,barW:25,barH:120.8,barLo:1.42,barHi:3.33,
  szx:1669,szy:1620.5,szh:144.2,sizeLegend:sizeLegendF,sizeDiam:sizeDiamF});

[['A',0,17],['B',998,17],['C',0,805],['D',998,805],['E',0,1316],['F',998,1315]].forEach(l=>text(l[1],l[2],l[0],28,{weight:'bold',fill:'#000'}));

const chart=echarts.init(document.getElementById('c'),null,{renderer:'canvas',width:2008,height:2028});
chart.setOption({
  animation:false,backgroundColor:'#fff',
  grid:grids,xAxis:xAxes,yAxis:yAxes,series,legend:legends,
  visualMap:[{type:'continuous',show:false,min:2,max:14,dimension:2,seriesIndex:heatIdx,inRange:{color:['#00ff00','#000000','#ff0000']}}],
  graphic:{elements:graphics}
});
</script></body></html>
